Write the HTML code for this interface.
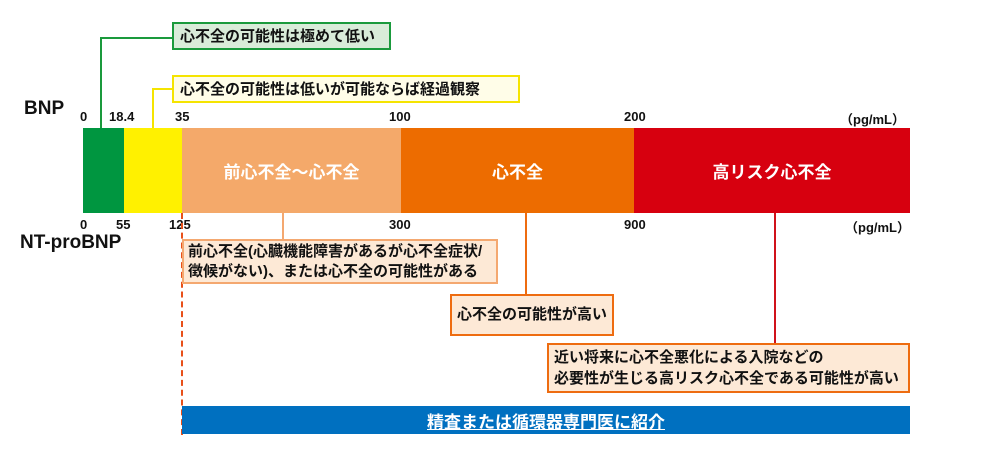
<!DOCTYPE html>
<html><head><meta charset="utf-8"><style>
body{margin:0;width:1000px;height:460px;background:#fff;position:relative;overflow:hidden;font-family:"Liberation Sans","Noto Sans CJK JP",sans-serif;font-weight:bold;color:#111}
div{position:absolute;box-sizing:border-box;white-space:nowrap}
.n{font-size:13px}
.b{font-size:15px;line-height:21px;padding:2px 6px}
.seg{top:128px;height:85px;color:#fff;font-size:17px;display:flex;align-items:center;justify-content:center}
</style></head><body>
<div style="left:24px;top:98px;font-size:19px">BNP</div>
<div style="left:20px;top:232px;font-size:19px">NT-proBNP</div>

<div class="n" style="left:80px;top:109px">0</div>
<div class="n" style="left:109px;top:109px">18.4</div>
<div class="n" style="left:175px;top:109px">35</div>
<div class="n" style="left:389px;top:109px">100</div>
<div class="n" style="left:624px;top:109px">200</div>
<div class="n" style="left:840px;top:109px">（pg/mL）</div>

<div class="n" style="left:80px;top:217px">0</div>
<div class="n" style="left:116px;top:217px">55</div>
<div class="n" style="left:169px;top:217px">125</div>
<div class="n" style="left:389px;top:217px">300</div>
<div class="n" style="left:624px;top:217px">900</div>
<div class="n" style="left:845px;top:217px">（pg/mL）</div>

<div style="left:100px;top:37px;width:2px;height:91px;background:#1a9a3c"></div>
<div style="left:100px;top:37px;width:72px;height:2px;background:#1a9a3c"></div>
<div style="left:152px;top:88px;width:2px;height:40px;background:#f5e400"></div>
<div style="left:152px;top:88px;width:20px;height:2px;background:#f5e400"></div>
<div style="left:282px;top:213px;width:2px;height:26px;background:#f4a870"></div>
<div style="left:525px;top:213px;width:2px;height:81px;background:#ee6c10"></div>
<div style="left:774px;top:213px;width:2px;height:130px;background:#d0121b"></div>
<div style="left:181px;top:213px;width:0;height:222px;border-left:2px dashed #e8501a"></div>

<div class="seg" style="left:83px;width:41px;background:#009640"></div>
<div class="seg" style="left:124px;width:58px;background:#fff100"></div>
<div class="seg" style="left:182px;width:219px;background:#f4a96a">前心不全～心不全</div>
<div class="seg" style="left:401px;width:233px;background:#ed6c00">心不全</div>
<div class="seg" style="left:634px;width:276px;background:#d7000f">高リスク心不全</div>

<div class="b" style="left:172px;top:22px;width:219px;height:28px;border:2px solid #1a9a3c;background:#d9ecd9">心不全の可能性は極めて低い</div>
<div class="b" style="left:172px;top:75px;width:348px;height:28px;border:2px solid #f5e400;background:#fffde8">心不全の可能性は低いが可能ならば経過観察</div>
<div class="b" style="left:182px;top:239px;width:316px;height:45px;border:2px solid #f4a870;background:#fde9d6;line-height:20px;padding:1px 4px">前心不全(心臓機能障害があるが心不全症状/<br>徴候がない)、または心不全の可能性がある</div>
<div class="b" style="left:450px;top:294px;width:164px;height:42px;border:2px solid #ee6c10;background:#fde9d6;padding:8px 5px">心不全の可能性が高い</div>
<div class="b" style="left:547px;top:343px;width:363px;height:50px;border:2px solid #ee6c10;background:#fde9d6;padding:2px 5px">近い将来に心不全悪化による入院などの<br>必要性が生じる高リスク心不全である可能性が高い</div>
<div style="left:182px;top:406px;width:728px;height:28px;background:#0070c0;color:#fff;font-size:17px;display:flex;align-items:center;justify-content:center;text-decoration:underline">精査または循環器専門医に紹介</div>
</body></html>
